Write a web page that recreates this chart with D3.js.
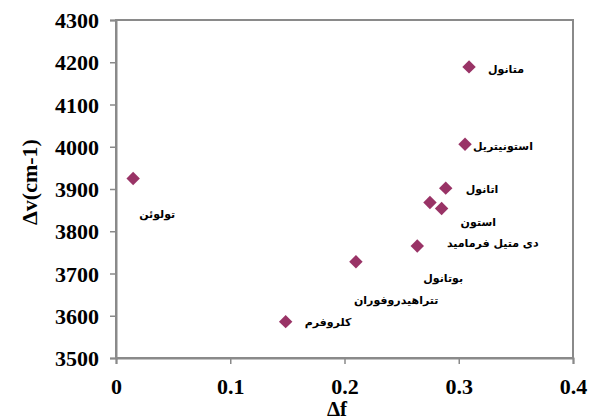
<!DOCTYPE html>
<html>
<head>
<meta charset="utf-8">
<script src="https://cdn.jsdelivr.net/npm/d3@7"></script>
<style>
  html, body { margin: 0; padding: 0; background: #fff; }
  svg { display: block; }
</style>
</head>
<body>
<svg id="chart" width="591" height="416"></svg>
<script>
// ---- data ----
const solvents = ["تولوئن", "کلروفرم", "تتراهیدروفوران", "بوتانول", "دی متیل فرمامید", "استون", "اتانول", "استونیتریل", "متانول"];
const deltaF   = [0.015, 0.1485, 0.210, 0.2637, 0.2748, 0.285, 0.2886, 0.3055, 0.309];
const deltaNu  = [3925, 3586, 3728, 3765, 3868, 3854, 3902, 4006, 4189];
const xTicks = [0, 0.1, 0.2, 0.3, 0.4];
const yTicks = [3500, 3600, 3700, 3800, 3900, 4000, 4100, 4200, 4300];
// label placement (layout: left edge / vertical offset relative to the point, px)
const labelDx = [6, 19, -2, 6, 17, 19, 20, 8, 19];
const labelDy = [36, 0, 38, 32, 41, 14, 1, 2, 2];

// ---- layout ----
const W = 591, H = 416;
const m = { left: 116, right: 18, top: 20, bottom: 58 };
const svg = d3.select("#chart");
const x = d3.scaleLinear().domain([0, 0.4]).range([m.left, W - m.right]);
const y = d3.scaleLinear().domain([3500, 4300]).range([H - m.bottom, m.top]);
const axisColor = "#8a8a8a";
const serif = "'Liberation Serif', 'Times New Roman', serif";

// plot frame
svg.append("rect")
  .attr("x", m.left).attr("y", m.top)
  .attr("width", W - m.left - m.right).attr("height", H - m.top - m.bottom)
  .attr("fill", "none").attr("stroke", axisColor).attr("stroke-width", 2);

// axes
const xAxis = svg.append("g")
  .attr("transform", `translate(0,${H - m.bottom})`)
  .call(d3.axisBottom(x).tickValues(xTicks).tickSize(6).tickPadding(14)
    .tickFormat(d => d === 0 ? "0" : d3.format(".1f")(d)));
const yAxis = svg.append("g")
  .attr("transform", `translate(${m.left},0)`)
  .call(d3.axisLeft(y).tickValues(yTicks).tickSize(6).tickPadding(11).tickFormat(d3.format("d")));

[xAxis, yAxis].forEach(g => {
  g.select(".domain").attr("stroke", axisColor).attr("stroke-width", 2);
  g.selectAll(".tick line").attr("stroke", axisColor).attr("stroke-width", 1.5);
  g.selectAll(".tick text")
    .attr("fill", "#000")
    .style("font-family", serif)
    .style("font-weight", "bold")
    .style("font-size", "22px");
});
yAxis.selectAll(".tick text").attr("dy", "0.35em");

// axis titles
svg.append("text")
  .attr("x", 337).attr("y", 416)
  .attr("text-anchor", "middle")
  .style("font-family", serif)
  .style("font-weight", "bold").style("font-size", "21px")
  .text("Δf");
svg.append("text")
  .attr("transform", "translate(37,182) rotate(-90)")
  .attr("text-anchor", "middle")
  .style("font-family", serif)
  .style("font-weight", "bold").style("font-size", "22px")
  .text("Δv(cm-1)");

// points
const data = solvents.map((s, i) => ({
  name: s, f: deltaF[i], v: deltaNu[i], dx: labelDx[i], dy: labelDy[i]
}));
const diamond = d3.symbol().type(d3.symbolSquare).size(90);

// labels (left edge at anchor; Persian text in its natural right-to-left order)
svg.append("g").selectAll("text")
  .data(data).join("text")
  .attr("x", d => x(d.f) + d.dx)
  .attr("y", d => y(d.v) + d.dy)
  .attr("dy", "0.35em")
  .attr("text-anchor", "start")
  .style("font-family", "'DejaVu Sans', sans-serif")
  .style("font-weight", "bold")
  .style("font-size", "11px")
  .text(d => d.name);

svg.append("g").selectAll("path")
  .data(data).join("path")
  .attr("d", diamond)
  .attr("transform", d => `translate(${x(d.f)},${y(d.v)}) rotate(45)`)
  .attr("fill", "#993366");
</script>
</body>
</html>
